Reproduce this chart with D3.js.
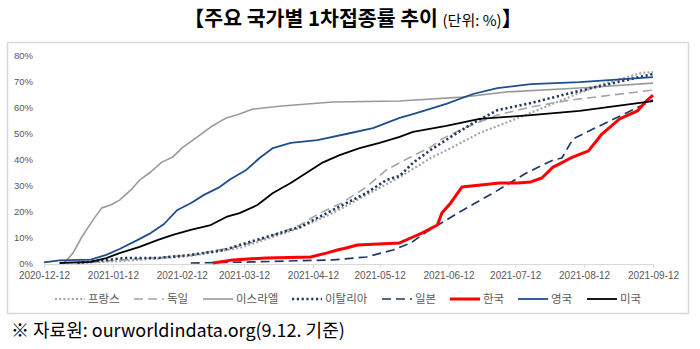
<!DOCTYPE html>
<html><head><meta charset="utf-8">
<script src="https://cdn.jsdelivr.net/npm/d3@7"></script>
<style>body{margin:0;background:#fff}svg{display:block}</style>
</head><body><svg id="c" width="700" height="349"></svg>
<script>
// ---- data (first-dose vaccination rate, %) ----
const franceDates  = ["2020-12-27","2021-01-17","2021-02-16","2021-03-10","2021-03-22","2021-04-06","2021-04-21","2021-05-06","2021-05-21","2021-06-04","2021-06-13","2021-06-26","2021-07-11","2021-07-22","2021-08-02","2021-08-19","2021-09-07","2021-09-12"];
const franceValues = [0,0.8,2.7,5.8,9.2,13.5,19.2,26.2,33,40.4,44.2,50,55,58.8,62.7,68.5,73.1,73.5];

const germanyDates  = ["2020-12-27","2021-01-17","2021-02-16","2021-03-10","2021-03-22","2021-04-06","2021-04-15","2021-04-25","2021-05-06","2021-05-15","2021-05-26","2021-06-04","2021-06-09","2021-06-18","2021-07-04","2021-07-19","2021-08-06","2021-09-12"];
const germanyValues = [0,1.2,3.0,6.5,9.6,14.5,19.2,23.1,29.2,35.8,40.8,44.6,47.7,51.5,56.9,60,62.7,66.5];

const israelDates  = ["2020-12-21","2020-12-25","2020-12-29","2021-01-03","2021-01-07","2021-01-11","2021-01-15","2021-01-20","2021-01-24","2021-01-29","2021-02-03","2021-02-08","2021-02-12","2021-02-19","2021-02-25","2021-03-04","2021-03-10","2021-03-16","2021-03-29","2021-04-21","2021-05-21","2021-06-18","2021-07-08","2021-08-10","2021-09-12"];
const israelValues = [0,3.8,10.0,16.5,21.2,22.3,24.2,28,31.9,35,38.8,40.8,44.2,48.5,52.3,55.8,57.3,59.2,60.4,61.9,62.3,63.8,65.8,67.3,69.2];

const italyDates  = ["2020-12-27","2021-01-17","2021-02-01","2021-02-16","2021-03-03","2021-03-10","2021-03-22","2021-04-06","2021-04-21","2021-05-06","2021-05-15","2021-05-21","2021-05-27","2021-06-04","2021-06-13","2021-06-23","2021-07-04","2021-07-19","2021-08-06","2021-08-24","2021-09-12"];
const italyValues = [0,1.9,1.9,3.1,5,6.9,10,13.8,20.4,26.9,31.9,33.5,38.5,43.5,48.5,53.8,58.8,61.5,65.4,69,72.7];

const japanDates  = ["2021-02-16","2021-03-15","2021-04-21","2021-05-06","2021-05-18","2021-05-26","2021-06-02","2021-06-17","2021-07-02","2021-07-17","2021-07-29","2021-08-02","2021-08-07","2021-08-16","2021-08-31","2021-09-12"];
const japanValues = [0,0.4,1.2,2.3,5,7.7,11.9,19.6,26.9,34.6,39.6,40.4,47.7,51.5,57.7,62.7];

const koreaDates  = ["2021-02-26","2021-03-07","2021-03-22","2021-04-11","2021-04-18","2021-04-23","2021-04-27","2021-05-02","2021-05-21","2021-05-27","2021-05-31","2021-06-07","2021-06-09","2021-06-13","2021-06-18","2021-07-05","2021-07-13","2021-07-19","2021-07-24","2021-07-29","2021-08-01","2021-08-06","2021-08-14","2021-08-20","2021-08-28","2021-09-05","2021-09-09","2021-09-12"];
const koreaValues = [0,1.2,1.9,2.3,3.8,5,5.8,6.9,7.7,10,11.5,14.6,19.2,23.1,29.2,30.8,30.8,31.2,32.7,36.9,38.1,40.4,43.1,49.6,55.4,58.5,62.3,64.6];

const ukDates  = ["2020-12-12","2020-12-19","2021-01-02","2021-01-09","2021-01-15","2021-01-23","2021-01-29","2021-02-04","2021-02-10","2021-02-16","2021-02-22","2021-03-01","2021-03-06","2021-03-13","2021-03-19","2021-03-25","2021-04-02","2021-04-14","2021-04-29","2021-05-09","2021-05-21","2021-05-27","2021-06-11","2021-06-23","2021-07-04","2021-07-19","2021-08-10","2021-09-12"];
const ukValues = [0.2,1.0,1.3,3.1,5.4,8.8,11.5,15,20.4,23,26.2,29.2,32.3,35.8,40.4,44.2,46.2,47.3,50,51.9,55.8,57.3,61.2,65,67.3,68.8,69.6,71.5];

const usDates  = ["2020-12-19","2021-01-02","2021-01-09","2021-01-15","2021-01-24","2021-02-01","2021-02-08","2021-02-16","2021-02-25","2021-03-04","2021-03-10","2021-03-18","2021-03-25","2021-04-02","2021-04-09","2021-04-16","2021-04-24","2021-05-03","2021-05-12","2021-05-21","2021-05-27","2021-06-11","2021-06-26","2021-07-19","2021-08-10","2021-09-12"];
const usValues = [0,0.4,1.9,3.8,6.2,8.8,10.8,12.7,14.6,17.7,19.2,22.3,26.9,30.8,34.6,38.5,41.5,44.2,46.2,48.5,50.4,52.7,55.4,56.9,58.5,62.3];

const seriesNames = ["프랑스","독일","이스라엘","이탈리아","일본","한국","영국","미국"];
const xTickLabels = ["2020-12-12","2021-01-12","2021-02-12","2021-03-12","2021-04-12","2021-05-12","2021-06-12","2021-07-12","2021-08-12","2021-09-12"];
const yTickValues = [0,10,20,30,40,50,60,70,80];

// ---- styles ----
const styles = {
  "프랑스":  {color:"#a5a5a5", width:2.2, dash:"2,2.2"},
  "독일":    {color:"#a5a5a5", width:1.6, dash:"9,5"},
  "이스라엘":{color:"#9a9a9a", width:1.6, dash:null},
  "이탈리아":{color:"#1f3864", width:2.6, dash:"2.2,2.6"},
  "일본":    {color:"#1f3864", width:1.7, dash:"9,5"},
  "한국":    {color:"#ff0000", width:3, dash:null},
  "영국":    {color:"#1f4e8c", width:1.8, dash:null},
  "미국":    {color:"#000000", width:1.8, dash:null}
};
const seriesData = [
  [franceDates, franceValues],[germanyDates, germanyValues],[israelDates, israelValues],
  [italyDates, italyValues],[japanDates, japanValues],[koreaDates, koreaValues],
  [ukDates, ukValues],[usDates, usValues]
];

const parse = d3.timeParse("%Y-%m-%d");
const svg = d3.select("#c");
const FONT = "'Liberation Sans', Arial, sans-serif";
const KFONT = "'Noto Sans CJK KR', sans-serif";

// title
const title = svg.append("text").attr("x",353).attr("y",26).attr("text-anchor","middle")
  .attr("font-family",KFONT).attr("fill","#000");
title.append("tspan").attr("font-weight",700).attr("font-size",20.5).text("【주요 국가별 1차접종률 추이 ");
title.append("tspan").attr("font-weight",400).attr("font-size",15).text("(단위: %)");
title.append("tspan").attr("font-weight",700).attr("font-size",20.5).text("】");

// frame
svg.append("rect").attr("x",7.5).attr("y",42.5).attr("width",681).attr("height",271)
  .attr("fill","none").attr("stroke","#d9d9d9").attr("stroke-width",1.5);

const x = d3.scaleTime().domain([parse("2020-12-12"), parse("2021-09-12")]).range([44,653]);
const y = d3.scaleLinear().domain([0,80]).range([263,55]);

// y axis (labels only)
const yAxis = d3.axisLeft(y).tickValues(yTickValues).tickFormat(d=>d+"%").tickSize(0).tickPadding(0);
const gy = svg.append("g").attr("transform","translate(33,0)").call(yAxis);
gy.select(".domain").remove();
gy.selectAll("text").attr("font-family",FONT).attr("font-size",9.5).attr("fill","#595959");

// x axis
const xAxis = d3.axisBottom(x).tickValues(xTickLabels.map(parse)).tickFormat(d3.timeFormat("%Y-%m-%d")).tickSize(4).tickSizeOuter(0).tickPadding(4);
const gx = svg.append("g").attr("transform","translate(0,264)").call(xAxis);
gx.select(".domain").attr("stroke","#d9d9d9");
gx.selectAll(".tick line").attr("stroke","#d9d9d9");
gx.selectAll("text").attr("font-family",FONT).attr("font-size",10).attr("fill","#595959");

// lines
const line = d3.line().x(d=>x(d[0])).y(d=>y(d[1]));
seriesData.forEach(([dates, vals], i) => {
  const name = seriesNames[i], s = styles[name];
  const pts = dates.map((d,j)=>[parse(d), vals[j]]);
  svg.append("path").datum(pts).attr("d",line).attr("fill","none")
    .attr("stroke",s.color).attr("stroke-width",s.width)
    .attr("stroke-dasharray",s.dash).attr("stroke-linejoin","round");
});

// legend
const legendX = [55,134,203,292,382,450,518,587];
const lg = svg.append("g").attr("transform","translate(0,299)");
seriesNames.forEach((name,i)=>{
  const s = styles[name];
  lg.append("line").attr("x1",legendX[i]).attr("x2",legendX[i]+30).attr("y1",0).attr("y2",0)
    .attr("stroke",s.color).attr("stroke-width",s.width).attr("stroke-dasharray",s.dash);
  lg.append("text").attr("x",legendX[i]+33).attr("y",4).attr("font-family",KFONT)
    .attr("font-size",11.5).attr("fill","#595959").text(name);
});

// footer
svg.append("text").attr("x",11).attr("y",337).attr("font-family",KFONT).attr("font-size",18)
  .attr("fill","#000").text("※  자료원: ourworldindata.org(9.12. 기준)");
</script>
</body></html>
